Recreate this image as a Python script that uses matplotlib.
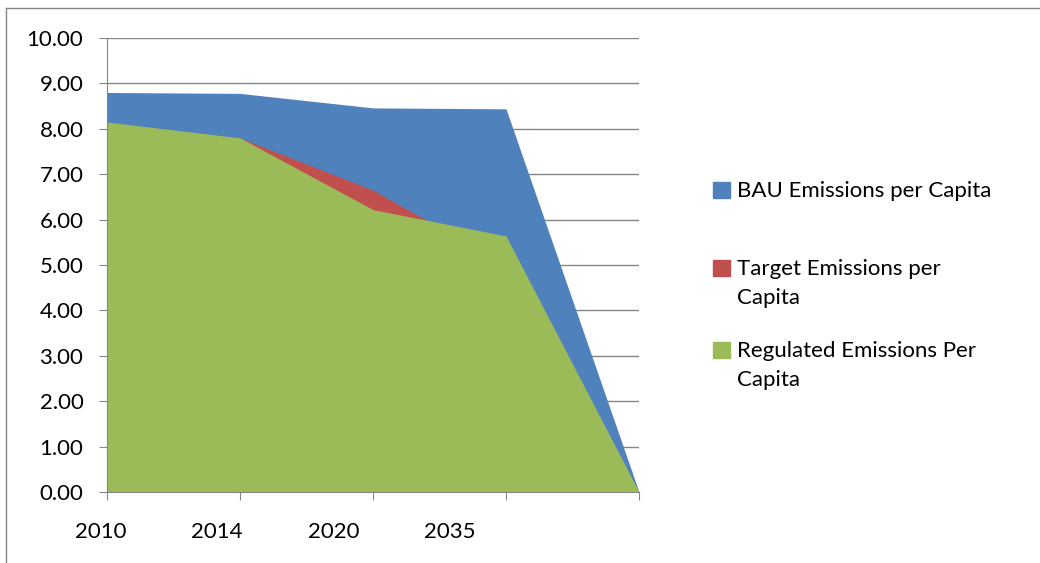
import matplotlib.pyplot as plt
from matplotlib.patches import Rectangle
from matplotlib.lines import Line2D

plt.rcParams['font.family'] = ['Lato', 'DejaVu Sans']

categories = ['2010', '2014', '2020', '2035', '']
bau = [8.80, 8.78, 8.46, 8.44, 0.0]
target = [8.10, 7.80, 6.65, 5.00, 0.0]
regulated = [8.15, 7.80, 6.22, 5.64, 0.0]
labels = ['BAU Emissions per Capita', 'Target Emissions per\nCapita', 'Regulated Emissions Per\nCapita']
colors = ['#4F81BD', '#C0504D', '#9BBB59']

fig = plt.figure(figsize=(10.4, 5.63), dpi=100)
ax = fig.add_axes([107/1040, 1 - 492/563, (639-107)/1040, (492-38)/563])

x = list(range(len(categories)))
for vals, c in zip([bau, target, regulated], colors):
    ax.fill_between(x, vals, 0, color=c, linewidth=0, zorder=2)

ax.set_yticks([i for i in range(11)])
ax.set_yticklabels([f'{i:.2f}' for i in range(11)], fontsize=16)
ax.grid(axis='y', color='#868686', linewidth=1, zorder=1)
ax.tick_params(axis='y', length=6, color='#868686', pad=11)

# tick marks at each category; labels placed where the original puts them
ax.set_xticks(x)
ax.set_xticklabels([])
ax.tick_params(axis='x', length=6, color='#868686')
ax.set_xlim(0, len(categories) - 1)
ax.set_ylim(0, 10)
for i, cat in enumerate(categories[:4]):
    ax.text(-0.05 + 0.876 * i, -0.088, cat, fontsize=16, ha='center', va='center',
            transform=ax.get_xaxis_transform(), clip_on=False)

for s in ['top', 'right']:
    ax.spines[s].set_visible(False)
for s in ['left', 'bottom']:
    ax.spines[s].set_color('#868686')

# legend drawn by hand (Excel style, marker aligned with first line)
leg_y = [190, 268, 350]
for lab, c, yy in zip(labels, colors, leg_y):
    fig.patches.append(Rectangle((713/1040, 1 - (yy + 8)/563), 17/1040, 16/563,
                                 transform=fig.transFigure, color=c))
    fig.text(737/1040, 1 - (yy - 9)/563, lab, fontsize=16, va='top', ha='left',
             transform=fig.transFigure, linespacing=1.55)

# chart area border
fig.lines.append(Line2D([6/1040, 6/1040], [0, 1 - 8/563], transform=fig.transFigure, color='#868686', linewidth=1))
fig.lines.append(Line2D([6/1040, 1], [1 - 8/563, 1 - 8/563], transform=fig.transFigure, color='#868686', linewidth=1))

fig.savefig('out.png', dpi=100)
